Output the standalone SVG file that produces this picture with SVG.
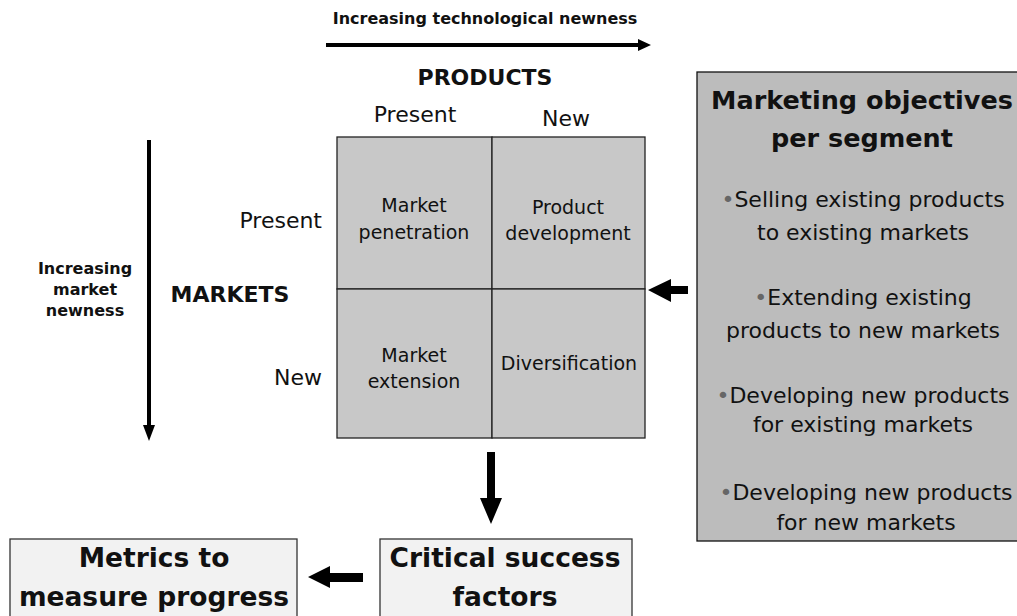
<svg xmlns="http://www.w3.org/2000/svg" width="1017" height="616" viewBox="0 0 1017 616">
<style>
text{font-family:"DejaVu Sans","Verdana",sans-serif;fill:#111;text-anchor:middle}
.b{font-weight:bold}
.s16{font-size:16px}
.s19{font-size:19px}
.s22{font-size:22px}
.t{font-size:25.5px;font-weight:bold}
.bt{font-size:26.5px;font-weight:bold}
.cell{fill:#c8c8c8;stroke:#222;stroke-width:1.3}
.box{fill:#f2f2f2;stroke:#333;stroke-width:1.3}
.bul{fill:#666}
</style>
<g id="top-label">
<text class="b s16" x="485" y="24">Increasing technological newness</text>
</g>
<g id="products-header">
<text class="b s22" x="485" y="85">PRODUCTS</text>
<text class="s22" x="415" y="122">Present</text>
<text class="s22" x="566" y="126">New</text>
</g>
<g id="markets-header">
<text class="s22" x="322" y="228" style="text-anchor:end">Present</text>
<text class="b s22" x="230" y="302">MARKETS</text>
<text class="s22" x="322" y="385" style="text-anchor:end">New</text>
<text class="b s16" x="85" y="274">Increasing</text>
<text class="b s16" x="85" y="295">market</text>
<text class="b s16" x="85" y="316">newness</text>
</g>
<g id="market-penetration">
<rect class="cell" x="337" y="137" width="155" height="152"/>
<text class="s19" x="414" y="212">Market</text>
<text class="s19" x="414" y="239">penetration</text>
</g>
<g id="product-development">
<rect class="cell" x="492" y="137" width="153" height="152"/>
<text class="s19" x="568" y="214">Product</text>
<text class="s19" x="568" y="240">development</text>
</g>
<g id="market-extension">
<rect class="cell" x="337" y="289" width="155" height="149"/>
<text class="s19" x="414" y="362">Market</text>
<text class="s19" x="414" y="388">extension</text>
</g>
<g id="diversification">
<rect class="cell" x="492" y="289" width="153" height="149"/>
<text class="s19" x="569" y="370">Diversification</text>
</g>
<g id="objectives">
<rect x="697" y="72" width="330" height="469" fill="#bcbcbc" stroke="#111" stroke-width="1.3"/>
<text class="t" x="862" y="109">Marketing objectives</text>
<text class="t" x="862" y="147">per segment</text>
<text class="s22" x="863" y="207"><tspan class="bul">•</tspan>Selling existing products</text>
<text class="s22" x="863" y="240">to existing markets</text>
<text class="s22" x="863" y="305"><tspan class="bul">•</tspan>Extending existing</text>
<text class="s22" x="863" y="338">products to new markets</text>
<text class="s22" x="863" y="403"><tspan class="bul">•</tspan>Developing new products</text>
<text class="s22" x="863" y="432">for existing markets</text>
<text class="s22" x="866" y="500"><tspan class="bul">•</tspan>Developing new products</text>
<text class="s22" x="866" y="530">for new markets</text>
</g>
<g id="critical-success-factors">
<rect class="box" x="380" y="539" width="252" height="90"/>
<text class="bt" x="505" y="567">Critical success</text>
<text class="bt" x="505" y="606">factors</text>
</g>
<g id="metrics">
<rect class="box" x="10" y="539" width="287" height="90"/>
<text class="bt" x="154" y="567">Metrics to</text>
<text class="bt" x="154" y="606">measure progress</text>
</g>
<g id="connectors" fill="#000">
<path d="M326 43 H638 V39 L651 45 L638 51 V47 H326 Z"/>
<path d="M147 140 V425 H143 L149 441 L155 425 H151 V140 Z"/>
<path d="M487 452 V498 H480 L491 524 L502 498 H495 V452 Z"/>
<path d="M688 286 H671 V279 L648 290 L671 302 V294 H688 Z"/>
<path d="M363 573 H330 V566 L308 577 L330 588 V582 H363 Z"/>
</g>
</svg>
